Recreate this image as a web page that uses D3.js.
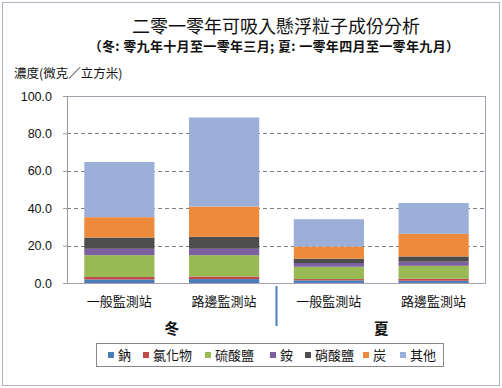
<!DOCTYPE html>
<html>
<head>
<meta charset="utf-8">
<script src="https://cdn.jsdelivr.net/npm/d3@7"></script>
<style>
  body { margin: 0; background: #fff; }
  svg { display: block; }
  .cjk { font-family: "Noto Sans CJK TC", "Noto Sans CJK SC", sans-serif; }
</style>
</head>
<body>
<svg id="chart" width="502" height="388"></svg>
<script>
// values (微克/立方米)
const stations = ["一般監測站", "路邊監測站", "一般監測站", "路邊監測站"];
const seasons = ["冬", "夏"];
const components = ["鈉", "氯化物", "硫酸鹽", "銨", "硝酸鹽", "炭", "其他"];
const colors = ["#4A7EBB", "#BE4B48", "#98B954", "#7D60A0", "#4D4D4D", "#EE8A3C", "#9BAFD9"];

const sodium    = [1.9, 2.1, 1.4, 1.2];
const chloride  = [1.3, 1.4, 0.7, 1.1];
const sulphate  = [11.7, 11.4, 6.6, 6.9];
const ammonium  = [3.4, 3.4, 2.0, 2.2];
const nitrate   = [6.0, 6.4, 2.3, 2.8];
const carbon    = [10.9, 16.2, 6.5, 12.1];
const others    = [29.5, 47.6, 14.6, 16.5];

const yTicks = [0, 20, 40, 60, 80, 100];

const series = [sodium, chloride, sulphate, ammonium, nitrate, carbon, others];
const rows = stations.map((s, i) => {
  const r = { idx: i };
  components.forEach((c, k) => r[c] = series[k][i]);
  return r;
});
const stacked = d3.stack().keys(components)(rows);

const svg = d3.select("#chart");
const margin = { top: 96, left: 67, right: 16, bottom: 105 };
const W = 502, H = 388;
const width = W - margin.left - margin.right,
      height = H - margin.top - margin.bottom;

// outer frame
svg.append("rect")
  .attr("x", 2.5).attr("y", 2.5)
  .attr("width", W - 5).attr("height", H - 5)
  .attr("fill", "none").attr("stroke", "#b8b0c0").attr("stroke-width", 1);

// titles
svg.append("text").attr("class", "cjk")
  .attr("x", 276).attr("y", 33)
  .attr("text-anchor", "middle").attr("font-size", 18)
  .attr("fill", "#111")
  .text("二零一零年可吸入懸浮粒子成份分析");
svg.append("text").attr("class", "cjk")
  .attr("x", 274).attr("y", 51)
  .attr("text-anchor", "middle").attr("font-size", 13).attr("font-weight", "bold")
  .attr("letter-spacing", 0.35)
  .attr("fill", "#111")
  .text("（冬: 零九年十月至一零年三月;  夏: 一零年四月至一零年九月）");
svg.append("text").attr("class", "cjk")
  .attr("x", 14).attr("y", 78)
  .attr("font-size", 12.5).attr("fill", "#111")
  .text("濃度(微克／立方米)");

const g = svg.append("g").attr("transform", `translate(${margin.left},${margin.top})`);

const x = d3.scaleBand().domain(d3.range(stations.length)).range([0, width]).paddingInner(0.33).paddingOuter(0.165);
const y = d3.scaleLinear().domain([0, 100]).range([height, 0]);

// gridlines
g.append("g").selectAll("line")
  .data(yTicks.filter(t => t > 0 && t < 100))
  .join("line")
    .attr("x1", 0).attr("x2", width)
    .attr("y1", d => Math.round(y(d)) + 0.5).attr("y2", d => Math.round(y(d)) + 0.5)
    .attr("stroke", "#808080").attr("stroke-dasharray", "4,3");

// bars
g.append("g").selectAll("g")
  .data(stacked)
  .join("g")
    .attr("fill", (d, i) => colors[i])
  .selectAll("rect")
  .data(d => d)
  .join("rect")
    .attr("x", d => x(d.data.idx))
    .attr("width", x.bandwidth())
    .attr("y", d => y(d[1]))
    .attr("height", d => y(d[0]) - y(d[1]));

// plot frame
g.append("rect")
  .attr("x", 0.5).attr("y", 0.5)
  .attr("width", width - 1).attr("height", height)
  .attr("fill", "none").attr("stroke", "#a8a0b0");

// y axis
const yAxis = g.append("g")
  .call(d3.axisLeft(y).tickValues(yTicks).tickFormat(d3.format(".1f")).tickSize(4).tickPadding(11));
yAxis.select(".domain").attr("stroke", "#999");
yAxis.selectAll(".tick line").attr("stroke", "#999").attr("x2", 0).attr("x1", -4);
yAxis.selectAll("text")
  .attr("font-family", "Liberation Sans, Arial, sans-serif")
  .attr("font-size", 12.5).attr("fill", "#111");

// station labels
g.append("g").selectAll("text")
  .data(stations)
  .join("text").attr("class", "cjk")
    .attr("x", (d, i) => x(i) + x.bandwidth() / 2)
    .attr("y", height + 23)
    .attr("text-anchor", "middle").attr("font-size", 13).attr("fill", "#111")
    .text(d => d);

// season labels
g.append("g").selectAll("text")
  .data(seasons)
  .join("text").attr("class", "cjk")
    .attr("x", (d, i) => (x(2 * i) + x(2 * i + 1) + x.bandwidth()) / 2)
    .attr("y", height + 51)
    .attr("text-anchor", "middle").attr("font-size", 15).attr("font-weight", "bold").attr("fill", "#111")
    .text(d => d);

// divider between seasons
const divX = (x(1) + x.bandwidth() + x(2)) / 2;
g.append("line")
  .attr("x1", divX).attr("x2", divX)
  .attr("y1", height + 3).attr("y2", height + 43)
  .attr("stroke", "#4A7EBB").attr("stroke-width", 2);

// legend
const legend = svg.append("g");
legend.append("rect")
  .attr("x", 96.5).attr("y", 343.5).attr("width", 347).attr("height", 23)
  .attr("fill", "#fff").attr("stroke", "#888");
const legendX = [108, 143, 205, 270, 305, 363, 400];
const item = legend.selectAll("g.item")
  .data(components)
  .join("g").attr("class", "item")
    .attr("transform", (d, i) => `translate(${legendX[i]},355)`);
item.append("rect")
  .attr("x", 0).attr("y", -3).attr("width", 6).attr("height", 6)
  .attr("fill", (d, i) => colors[i]);
item.append("text").attr("class", "cjk")
  .attr("x", 10).attr("y", 5)
  .attr("font-size", 13).attr("fill", "#111")
  .text(d => d);
</script>
</body>
</html>
